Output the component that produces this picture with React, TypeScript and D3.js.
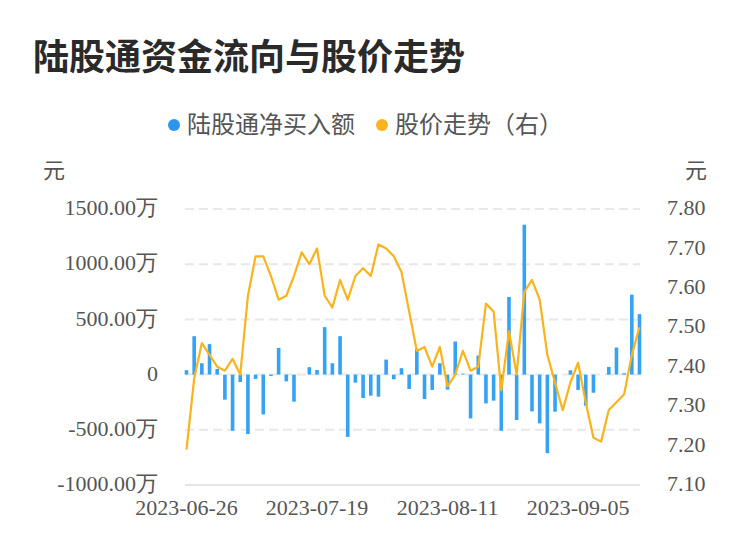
import React from "react";
import * as d3 from "d3";

const dates = [
  "2023-06-26","2023-06-27","2023-06-28","2023-06-29","2023-06-30",
  "2023-07-03","2023-07-04","2023-07-05","2023-07-06","2023-07-07",
  "2023-07-10","2023-07-11","2023-07-12","2023-07-13","2023-07-14",
  "2023-07-17","2023-07-18","2023-07-19","2023-07-20","2023-07-21",
  "2023-07-24","2023-07-25","2023-07-26","2023-07-27","2023-07-28",
  "2023-07-31","2023-08-01","2023-08-02","2023-08-03","2023-08-04",
  "2023-08-07","2023-08-08","2023-08-09","2023-08-10","2023-08-11",
  "2023-08-14","2023-08-15","2023-08-16","2023-08-17","2023-08-18",
  "2023-08-21","2023-08-22","2023-08-23","2023-08-24","2023-08-25",
  "2023-08-28","2023-08-29","2023-08-30","2023-08-31","2023-09-01",
  "2023-09-04","2023-09-05","2023-09-06","2023-09-07","2023-09-08",
  "2023-09-11","2023-09-12","2023-09-13","2023-09-14","2023-09-15",
];

// 陆股通净买入额 (万元)
const netBuy = [
  40, 348, 103, 276, 52, -227, -509, -67, -539, -39,
  -361, -12, 242, -61, -245, 0, 67, 42, 430, 103,
  348, -564, -73, -212, -191, -200, 136, -42, 58, -130,
  230, -221, -139, 103, -136, 300, 9, -397, 173, -261,
  -236, -509, 703, -412, 1358, -333, -442, -712, -336, 0,
  39, -139, -282, -164, 0, 70, 245, 12, 724, 548,
];

// 股价走势 (元)
const price = [
  7.19, 7.37, 7.46, 7.43, 7.40, 7.39, 7.42, 7.38, 7.58, 7.68,
  7.68, 7.63, 7.57, 7.58, 7.63, 7.69, 7.66, 7.70, 7.58, 7.55,
  7.62, 7.57, 7.63, 7.65, 7.63, 7.71, 7.70, 7.68, 7.64, 7.54,
  7.44, 7.45, 7.40, 7.45, 7.35, 7.38, 7.44, 7.39, 7.40, 7.56,
  7.54, 7.34, 7.49, 7.38, 7.59, 7.62, 7.57, 7.43, 7.36, 7.29,
  7.36, 7.41, 7.31, 7.22, 7.21, 7.29, 7.31, 7.33, 7.43, 7.50,
];

const leftTicks = [1500, 1000, 500, 0, -500, -1000];
const rightTicks = [7.8, 7.7, 7.6, 7.5, 7.4, 7.3, 7.2, 7.1];
const xTickIdx = [0, 17, 34, 51];

const W = 750;
const H = 558;
const plot = { left: 185, right: 640, top: 209, bottom: 485 };

export default function App() {
  const x = d3
    .scalePoint<string>()
    .domain(dates)
    .range([plot.left + 1.5, plot.right - 0.5]);
  const yL = d3.scaleLinear().domain([-1000, 1500]).range([plot.bottom, plot.top]);
  const yR = d3.scaleLinear().domain([7.1, 7.8]).range([plot.bottom, plot.top]);

  const line = d3
    .line<number>()
    .x((_, i) => x(dates[i]) as number)
    .y((d) => yR(d));

  const axisFont = "'Liberation Serif', 'Times New Roman', serif";
  const cjk = "'Noto Sans CJK SC', 'Noto Sans', sans-serif";
  const labelColor = "#555";
  const barW = 3.6;

  const fmtL = (v: number) => (v === 0 ? "0" : `${v.toFixed(2)}万`);

  return (
    <svg
      width={W}
      height={H}
      style={{ position: "absolute", left: 0, top: 0, background: "#fff" }}
    >
      <text x={33} y={70} fontFamily={cjk} fontWeight={700} fontSize={36} fill="#2a2a2a">
        陆股通资金流向与股价走势
      </text>

      {/* legend */}
      <circle cx={174} cy={125} r={6} fill="#2e95ee" />
      <text x={187} y={133} fontFamily={cjk} fontSize={24} fill={labelColor}>
        陆股通净买入额
      </text>
      <circle cx={382} cy={125} r={6} fill="#f9b31c" />
      <text x={395} y={133} fontFamily={cjk} fontSize={24} fill={labelColor}>
        股价走势（右）
      </text>

      {/* units */}
      <text x={54} y={178} textAnchor="middle" fontFamily={cjk} fontSize={22} fill={labelColor}>
        元
      </text>
      <text x={696} y={178} textAnchor="middle" fontFamily={cjk} fontSize={22} fill={labelColor}>
        元
      </text>

      {/* grid */}
      {leftTicks.map((t) =>
        t === -1000 ? (
          <line key={t} x1={plot.left} x2={plot.right} y1={yL(t)} y2={yL(t)} stroke="#e6e6e6" strokeWidth={2} />
        ) : (
          <line
            key={t}
            x1={plot.left}
            x2={plot.right}
            y1={yL(t)}
            y2={yL(t)}
            stroke="#e8e8e8"
            strokeWidth={2}
            strokeDasharray="9,5"
          />
        )
      )}

      {/* left axis labels */}
      {leftTicks.map((t) => (
        <text
          key={t}
          x={158}
          y={yL(t)}
          dy="0.28em"
          textAnchor="end"
          fontFamily={axisFont}
          fontSize={22}
          fill={labelColor}
        >
          {fmtL(t)}
        </text>
      ))}

      {/* right axis labels */}
      {rightTicks.map((t) => (
        <text
          key={t}
          x={667}
          y={yR(t)}
          dy="0.28em"
          textAnchor="start"
          fontFamily={axisFont}
          fontSize={22}
          fill={labelColor}
        >
          {t.toFixed(2)}
        </text>
      ))}

      {/* x labels */}
      {xTickIdx.map((i) => (
        <text
          key={i}
          x={x(dates[i]) as number}
          y={515}
          textAnchor="middle"
          fontFamily={axisFont}
          fontSize={22}
          fill={labelColor}
        >
          {dates[i]}
        </text>
      ))}

      {/* bars */}
      {netBuy.map((v, i) => {
        const cx = x(dates[i]) as number;
        const y0 = yL(0);
        const y1 = yL(v);
        return (
          <rect
            key={i}
            x={cx - barW / 2}
            y={Math.min(y0, y1)}
            width={barW}
            height={Math.abs(y1 - y0)}
            fill="#36a2f4"
          />
        );
      })}

      {/* price line */}
      <path d={line(price) || ""} fill="none" stroke="#f9b31c" strokeWidth={2.2} strokeLinejoin="round" />
    </svg>
  );
}
